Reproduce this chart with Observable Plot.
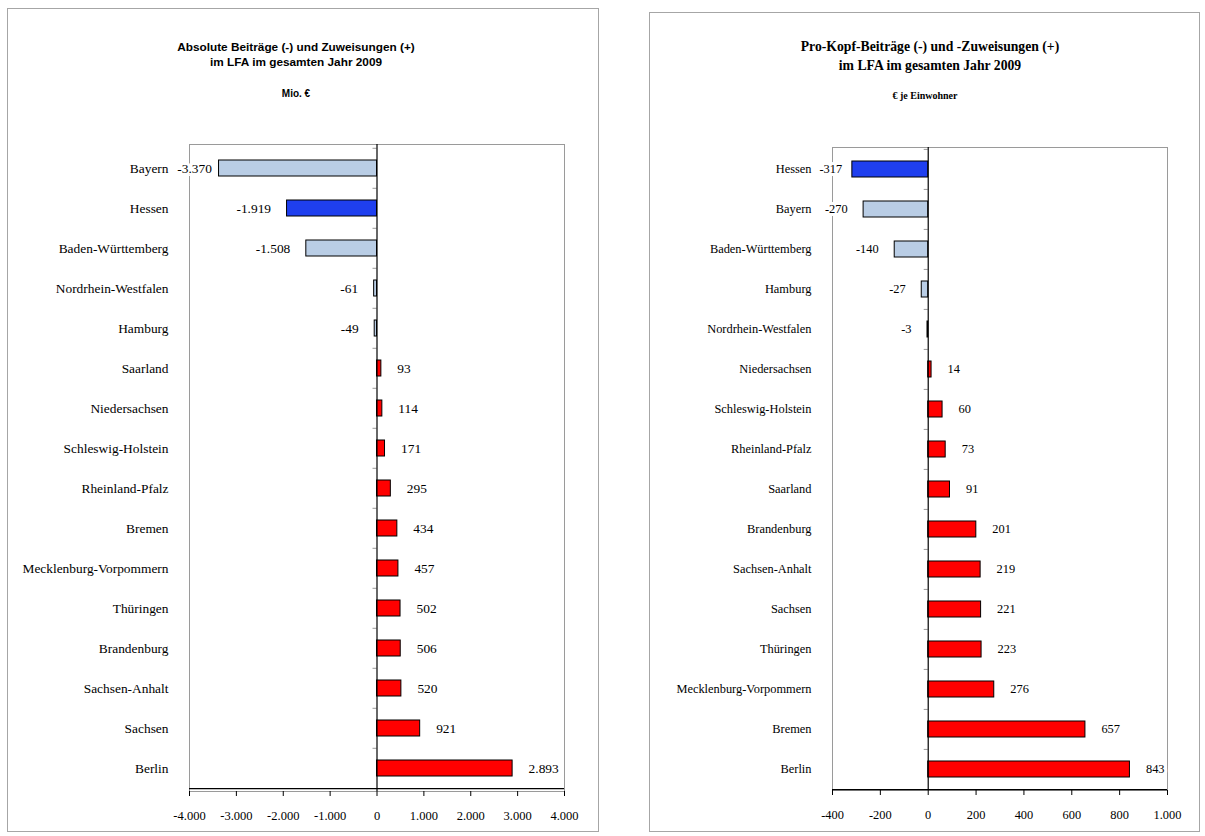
<!DOCTYPE html>
<html><head><meta charset="utf-8">
<script src="https://cdn.jsdelivr.net/npm/d3@7"></script>
<script src="https://cdn.jsdelivr.net/npm/@observablehq/plot@0.6"></script>
<style>
body{margin:0;background:#fff;}
#page{position:relative;width:1205px;height:836px;overflow:hidden;background:#fff;}
.panel{position:absolute;border:1px solid #a6a6a6;box-sizing:border-box;}
.title{position:absolute;text-align:center;white-space:nowrap;transform:translateX(-50%);color:#000;}
.chart{position:absolute;}
</style></head><body>
<div id="page">
  <div class="panel" style="left:7px;top:8px;width:592px;height:824px"></div>
  <div class="panel" style="left:649px;top:12px;width:551px;height:820px"></div>
  <div class="title" style="left:296px;top:40px;font:bold 11.8px 'Liberation Sans',Arial,sans-serif;line-height:15px">Absolute Beiträge (-) und Zuweisungen (+)<br>im LFA im gesamten Jahr 2009</div>
  <div class="title" style="left:296px;top:88px;font:bold 10px 'Liberation Sans',Arial,sans-serif">Mio. €</div>
  <div class="title" style="left:930px;top:37px;font:bold 13.7px 'Liberation Serif','Times New Roman',serif;line-height:19px">Pro-Kopf-Beiträge (-) und -Zuweisungen (+)<br>im LFA im gesamten Jahr 2009</div>
  <div class="title" style="left:925px;top:90px;font:bold 10px 'Liberation Serif','Times New Roman',serif">€ je Einwohner</div>
</div>
<script>
// ---- data ----
const absStates = ["Bayern","Hessen","Baden-Württemberg","Nordrhein-Westfalen","Hamburg","Saarland","Niedersachsen","Schleswig-Holstein","Rheinland-Pfalz","Bremen","Mecklenburg-Vorpommern","Thüringen","Brandenburg","Sachsen-Anhalt","Sachsen","Berlin"];
const absValues = [-3370,-1919,-1508,-61,-49,93,114,171,295,434,457,502,506,520,921,2893];
const absTicks = [-4000,-3000,-2000,-1000,0,1000,2000,3000,4000];

const pcStates = ["Hessen","Bayern","Baden-Württemberg","Hamburg","Nordrhein-Westfalen","Niedersachsen","Schleswig-Holstein","Rheinland-Pfalz","Saarland","Brandenburg","Sachsen-Anhalt","Sachsen","Thüringen","Mecklenburg-Vorpommern","Bremen","Berlin"];
const pcValues = [-317,-270,-140,-27,-3,14,60,73,91,201,219,221,223,276,657,843];
const pcTicks = [-400,-200,0,200,400,600,800,1000];

const highlighted = ["Hessen"];

const colorDonor = "#B9CDE5";
const colorHighlight = "#1F3FEF";
const colorRecipient = "#FF0000";

const locale = d3.formatLocale({decimal: ",", thousands: ".", grouping: [3], currency: ["", " €"], minus: "-"});
const fmt = locale.format(",d");

function makeChart(cfg) {
  const data = cfg.names.map((name, i) => ({name, value: cfg.values[i]}));
  const plotH = cfg.height - cfg.marginTop - cfg.marginBottom;
  const plotW = cfg.width - cfg.marginLeft - cfg.marginRight;
  const step = plotH / cfg.names.length;
  const span = cfg.domain[1] - cfg.domain[0];
  const tickLen = 4 * span / plotW;
  const fill = d => d.value < 0 ? (highlighted.includes(d.name) ? colorHighlight : colorDonor) : colorRecipient;
  const chart = Plot.plot({
    width: cfg.width, height: cfg.height,
    marginLeft: cfg.marginLeft, marginRight: cfg.marginRight,
    marginTop: cfg.marginTop, marginBottom: cfg.marginBottom,
    style: {fontFamily: "'Liberation Serif','Times New Roman',serif", fontSize: cfg.fontSize + "px", background: "transparent", overflow: "visible", color: "#000"},
    x: {domain: cfg.domain, label: null},
    y: {type: "band", domain: cfg.names, paddingInner: 0.6, paddingOuter: 0.3, label: null},
    marks: [
      Plot.frame({stroke: "#9a9a9a"}),
      Plot.ruleY(cfg.names, {y: d => d, x1: 0, x2: -tickLen, dy: -step / 2, stroke: "#9a9a9a"}),
      Plot.barX(data, {y: "name", x: "value", fill, stroke: "#000", strokeWidth: 1}),
      Plot.ruleX([0], {stroke: "#000", strokeWidth: 1.2}),
      Plot.ruleY([cfg.names[cfg.names.length - 1]], {x1: cfg.domain[0], x2: cfg.domain[1], dy: step / 2, stroke: "#000", strokeWidth: 1.2}),
      Plot.text(data.filter(d => d.value >= 0), {y: "name", x: "value", text: d => fmt(d.value), dx: 16, textAnchor: "start", fill: "#000", stroke: "#fff", strokeWidth: 6, fontSize: cfg.fontSize}),
      Plot.text(data.filter(d => d.value < 0), {y: "name", x: d => Math.max(d.value, cfg.labelClamp), text: d => fmt(d.value), dx: -16, textAnchor: "end", fill: "#000", stroke: "#fff", strokeWidth: 6, fontSize: cfg.fontSize}),
      Plot.axisY({tickSize: 0, tickPadding: 21, fontSize: cfg.fontSize, label: null}),
      Plot.axisX(cfg.ticks, {tickSize: 5, tickPadding: 15, tickFormat: fmt, stroke: "#000", fontSize: cfg.tickFontSize, label: null})
    ]
  });
  chart.classList.add("chart");
  chart.style.position = "absolute";
  chart.style.left = cfg.left + "px";
  chart.style.top = cfg.top + "px";
  document.getElementById("page").appendChild(chart);
}

makeChart({names: absStates, values: absValues, ticks: absTicks, domain: [-4000, 4000],
  left: 0, top: 120, width: 600, height: 716,
  marginLeft: 189, marginRight: 36, marginTop: 24, marginBottom: 45,
  fontSize: 13.4, tickFontSize: 12.5, labelClamp: -3180});

makeChart({names: pcStates, values: pcValues, ticks: pcTicks, domain: [-400, 1000],
  left: 600, top: 120, width: 605, height: 716,
  marginLeft: 232, marginRight: 38, marginTop: 27, marginBottom: 46,
  fontSize: 12.4, tickFontSize: 12.4, labelClamp: -293});
</script>
</body></html>
